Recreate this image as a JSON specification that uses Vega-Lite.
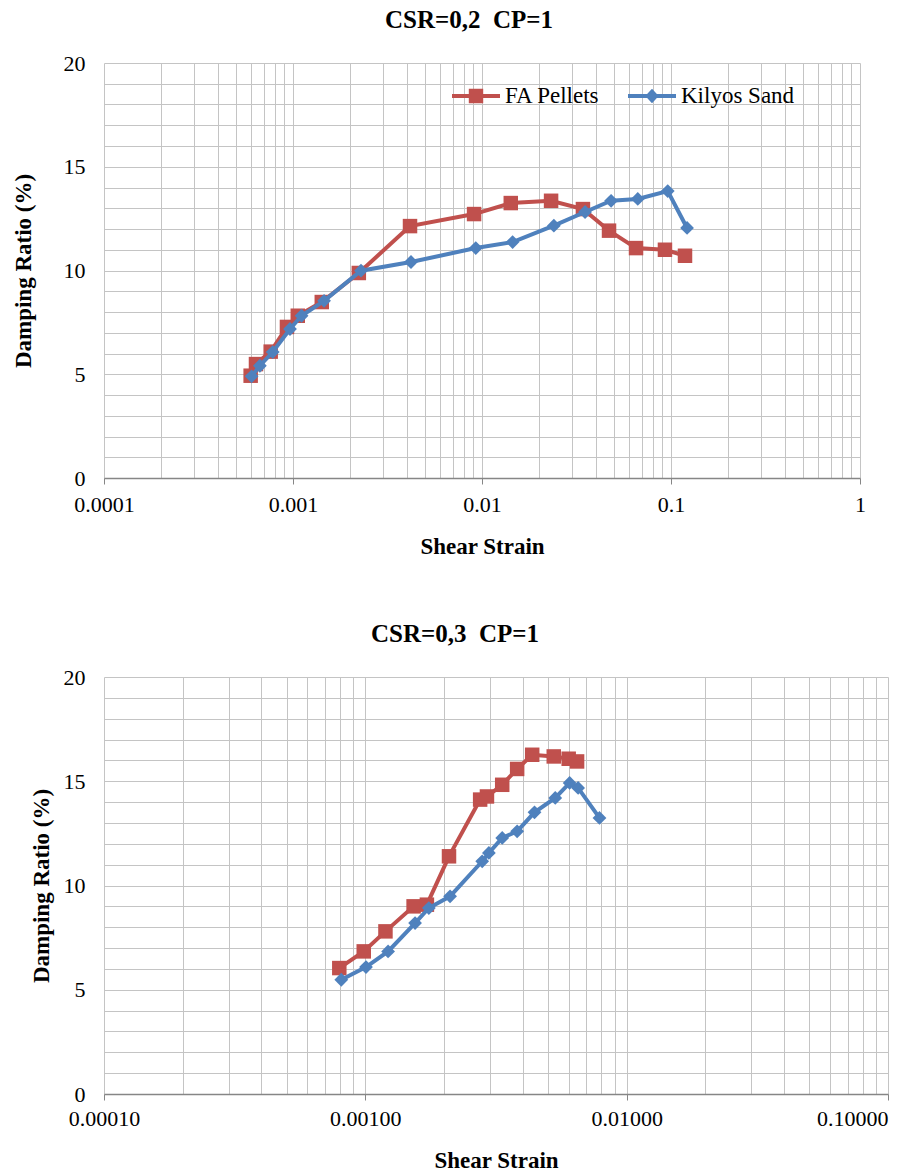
{
  "$schema": "https://vega.github.io/schema/vega-lite/v6.json",
  "background": "white",
  "padding": {"left": 12, "top": 8, "right": 5, "bottom": 0},
  "spacing": 64,
  "config": {
    "font": "'Liberation Serif', 'Times New Roman', serif",
    "view": {"stroke": null},
    "legend": {"labelFont": "'Liberation Serif', 'Times New Roman', serif", "labelColor": "#000000"},
    "axis": {
      "labelFont": "'Liberation Serif', 'Times New Roman', serif",
      "titleFont": "'Liberation Serif', 'Times New Roman', serif",
      "labelColor": "#000000",
      "titleColor": "#000000",
      "gridColor": "#c4c4c4",
      "gridWidth": 1,
      "gridOpacity": 1
    },
    "title": {"font": "'Liberation Serif', 'Times New Roman', serif"}
  },
  "datasets": {
    "top": [
      {"series": "FA Pellets", "strain": 0.000597, "damping": 4.93},
      {"series": "FA Pellets", "strain": 0.000637, "damping": 5.49},
      {"series": "FA Pellets", "strain": 0.000762, "damping": 6.09},
      {"series": "FA Pellets", "strain": 0.000929, "damping": 7.28},
      {"series": "FA Pellets", "strain": 0.00106, "damping": 7.82},
      {"series": "FA Pellets", "strain": 0.00142, "damping": 8.48},
      {"series": "FA Pellets", "strain": 0.00223, "damping": 9.88},
      {"series": "FA Pellets", "strain": 0.00416, "damping": 12.14},
      {"series": "FA Pellets", "strain": 0.00908, "damping": 12.72},
      {"series": "FA Pellets", "strain": 0.0142, "damping": 13.25},
      {"series": "FA Pellets", "strain": 0.0232, "damping": 13.36},
      {"series": "FA Pellets", "strain": 0.0342, "damping": 12.96},
      {"series": "FA Pellets", "strain": 0.047, "damping": 11.92},
      {"series": "FA Pellets", "strain": 0.0653, "damping": 11.08},
      {"series": "FA Pellets", "strain": 0.0929, "damping": 11.0},
      {"series": "FA Pellets", "strain": 0.1186, "damping": 10.71},
      {"series": "Kilyos Sand", "strain": 0.000604, "damping": 4.9},
      {"series": "Kilyos Sand", "strain": 0.000668, "damping": 5.41},
      {"series": "Kilyos Sand", "strain": 0.000781, "damping": 6.07},
      {"series": "Kilyos Sand", "strain": 0.000964, "damping": 7.18},
      {"series": "Kilyos Sand", "strain": 0.00111, "damping": 7.82},
      {"series": "Kilyos Sand", "strain": 0.00146, "damping": 8.54},
      {"series": "Kilyos Sand", "strain": 0.00229, "damping": 9.99},
      {"series": "Kilyos Sand", "strain": 0.00421, "damping": 10.41},
      {"series": "Kilyos Sand", "strain": 0.00927, "damping": 11.08},
      {"series": "Kilyos Sand", "strain": 0.01452, "damping": 11.37},
      {"series": "Kilyos Sand", "strain": 0.024, "damping": 12.16},
      {"series": "Kilyos Sand", "strain": 0.0351, "damping": 12.82},
      {"series": "Kilyos Sand", "strain": 0.0482, "damping": 13.36},
      {"series": "Kilyos Sand", "strain": 0.0667, "damping": 13.45},
      {"series": "Kilyos Sand", "strain": 0.0961, "damping": 13.83},
      {"series": "Kilyos Sand", "strain": 0.1216, "damping": 12.05}
    ],
    "bottom": [
      {"series": "FA Pellets", "strain": 0.000795, "damping": 6.04},
      {"series": "FA Pellets", "strain": 0.000986, "damping": 6.84},
      {"series": "FA Pellets", "strain": 0.001194, "damping": 7.8},
      {"series": "FA Pellets", "strain": 0.00153, "damping": 9.0},
      {"series": "FA Pellets", "strain": 0.00172, "damping": 9.08},
      {"series": "FA Pellets", "strain": 0.00209, "damping": 11.4},
      {"series": "FA Pellets", "strain": 0.00275, "damping": 14.12},
      {"series": "FA Pellets", "strain": 0.00292, "damping": 14.27},
      {"series": "FA Pellets", "strain": 0.00334, "damping": 14.83},
      {"series": "FA Pellets", "strain": 0.00381, "damping": 15.59},
      {"series": "FA Pellets", "strain": 0.00435, "damping": 16.27},
      {"series": "FA Pellets", "strain": 0.00526, "damping": 16.19},
      {"series": "FA Pellets", "strain": 0.006, "damping": 16.08},
      {"series": "FA Pellets", "strain": 0.00646, "damping": 15.95},
      {"series": "Kilyos Sand", "strain": 0.000809, "damping": 5.48},
      {"series": "Kilyos Sand", "strain": 0.001006, "damping": 6.09},
      {"series": "Kilyos Sand", "strain": 0.001222, "damping": 6.84},
      {"series": "Kilyos Sand", "strain": 0.00155, "damping": 8.2},
      {"series": "Kilyos Sand", "strain": 0.00175, "damping": 8.92},
      {"series": "Kilyos Sand", "strain": 0.00211, "damping": 9.48},
      {"series": "Kilyos Sand", "strain": 0.0028, "damping": 11.16},
      {"series": "Kilyos Sand", "strain": 0.00297, "damping": 11.56},
      {"series": "Kilyos Sand", "strain": 0.00334, "damping": 12.28},
      {"series": "Kilyos Sand", "strain": 0.00381, "damping": 12.6},
      {"series": "Kilyos Sand", "strain": 0.00444, "damping": 13.51},
      {"series": "Kilyos Sand", "strain": 0.00533, "damping": 14.2},
      {"series": "Kilyos Sand", "strain": 0.00605, "damping": 14.92},
      {"series": "Kilyos Sand", "strain": 0.00652, "damping": 14.68},
      {"series": "Kilyos Sand", "strain": 0.00787, "damping": 13.24}
    ]
  },
  "vconcat": [
    {
      "width": 756,
      "height": 415,
      "title": {"text": "CSR=0,2\u00a0 CP=1", "fontSize": 25, "fontWeight": "bold", "color": "#000000", "anchor": "middle", "dx": -13, "offset": 19},
      "data": {"name": "top"},
      "encoding": {
        "x": {
          "field": "strain", "type": "quantitative",
          "scale": {"type": "log", "domain": [0.0001, 1], "nice": false},
          "axis": {
            "values": [0.0001,0.0002,0.0003,0.0004,0.0005,0.0006,0.0007,0.0008,0.0009,0.001,0.002,0.003,0.004,0.005,0.006,0.007,0.008,0.009,0.01,0.02,0.03,0.04,0.05,0.06,0.07,0.08,0.09,0.1,0.2,0.3,0.4,0.5,0.6,0.7,0.8,0.9,1],
            "title": "Shear Strain", "titleFontSize": 23, "titleFontWeight": "bold", "titlePadding": 20,
            "labelFontSize": 22, "labelPadding": 10, "labelOverlap": false, "labelFlush": false, "labelBound": false,
            "labelExpr": "abs(log(datum.value)/LN10 - round(log(datum.value)/LN10)) < 0.001 ? format(datum.value, '~g') : ''",
            "grid": true,
            "domainColor": "#868686", "domainWidth": 1.5,
            "tickColor": "#868686", "tickSize": 6, "tickWidth": 1,
            "tickOpacity": {"condition": {"test": "abs(log(datum.value)/LN10 - round(log(datum.value)/LN10)) < 0.001", "value": 1}, "value": 0}
          }
        },
        "y": {
          "field": "damping", "type": "quantitative",
          "scale": {"domain": [0, 20], "nice": false},
          "axis": {
            "values": [0,1,2,3,4,5,6,7,8,9,10,11,12,13,14,15,16,17,18,19,20],
            "title": "Damping Ratio (%)", "titleFontSize": 23, "titleFontWeight": "bold", "titlePadding": 28,
            "labelFontSize": 22, "labelPadding": 19, "labelOverlap": false,
            "labelExpr": "datum.value % 5 === 0 ? datum.label : ''",
            "ticks": false, "domain": false, "grid": true
          }
        },
        "color": {
          "field": "series", "type": "nominal",
          "scale": {"domain": ["FA Pellets", "Kilyos Sand"], "range": ["#C0504D", "#4F81BD"]},
          "legend": {
            "orient": "none", "legendX": 348, "legendY": 9, "direction": "horizontal", "title": null,
            "labelFontSize": 23, "labelColor": "#000000",
            "symbolSize": 2304, "columnPadding": 28, "labelOffset": 5,
            "encode": {
              "symbols": {"update": {
                "shape": {"signal": "datum.value === 'FA Pellets' ? 'M-1,-0.085H1V0.085H-1Z M-0.3,-0.3H0.3V0.3H-0.3Z' : 'M-1,-0.085H1V0.085H-1Z M0,-0.3L0.28,0L0,0.3L-0.28,0Z'"},
                "fill": {"scale": "color", "field": "value"},
                "fillOpacity": {"value": 1},
                "strokeWidth": {"value": 0}
              }}
            }
          }
        }
      },
      "layer": [
        {"transform": [{"filter": "datum.series === 'FA Pellets'"}], "mark": {"type": "line", "strokeWidth": 4}},
        {"transform": [{"filter": "datum.series === 'FA Pellets'"}], "mark": {"type": "point", "shape": "square", "filled": true, "size": 210, "opacity": 1}},
        {"transform": [{"filter": "datum.series === 'Kilyos Sand'"}], "mark": {"type": "line", "strokeWidth": 4}},
        {"transform": [{"filter": "datum.series === 'Kilyos Sand'"}], "mark": {"type": "point", "shape": "diamond", "filled": true, "size": 190, "opacity": 1}}
      ]
    },
    {
      "width": 784,
      "height": 417,
      "title": {"text": "CSR=0,3\u00a0 CP=1", "fontSize": 25, "fontWeight": "bold", "color": "#000000", "anchor": "middle", "dx": -41, "offset": 19},
      "data": {"name": "bottom"},
      "encoding": {
        "x": {
          "field": "strain", "type": "quantitative",
          "scale": {"type": "log", "domain": [0.0001, 0.1], "nice": false},
          "axis": {
            "values": [0.0001,0.0002,0.0003,0.0004,0.0005,0.0006,0.0007,0.0008,0.0009,0.001,0.002,0.003,0.004,0.005,0.006,0.007,0.008,0.009,0.01,0.02,0.03,0.04,0.05,0.06,0.07,0.08,0.09,0.1],
            "title": "Shear Strain", "titleFontSize": 23, "titleFontWeight": "bold", "titlePadding": 20,
            "labelFontSize": 22, "labelPadding": 8, "labelOverlap": false, "labelFlush": false, "labelBound": false,
            "labelExpr": "abs(log(datum.value)/LN10 - round(log(datum.value)/LN10)) < 0.001 ? format(datum.value, '.5f') : ''",
            "labelAlign": {"condition": {"test": "datum.value > 0.09", "value": "right"}, "value": "center"},
            "grid": true,
            "domainColor": "#868686", "domainWidth": 1.5,
            "tickColor": "#868686", "tickSize": 6, "tickWidth": 1,
            "tickOpacity": {"condition": {"test": "abs(log(datum.value)/LN10 - round(log(datum.value)/LN10)) < 0.001", "value": 1}, "value": 0}
          }
        },
        "y": {
          "field": "damping", "type": "quantitative",
          "scale": {"domain": [0, 20], "nice": false},
          "axis": {
            "values": [0,1,2,3,4,5,6,7,8,9,10,11,12,13,14,15,16,17,18,19,20],
            "title": "Damping Ratio (%)", "titleFontSize": 23, "titleFontWeight": "bold", "titlePadding": 10,
            "labelFontSize": 22, "labelPadding": 19, "labelOverlap": false,
            "labelExpr": "datum.value % 5 === 0 ? datum.label : ''",
            "ticks": false, "domain": false, "grid": true
          }
        },
        "color": {
          "field": "series", "type": "nominal",
          "scale": {"domain": ["FA Pellets", "Kilyos Sand"], "range": ["#C0504D", "#4F81BD"]},
          "legend": {
            "orient": "none", "legendX": 378, "legendY": 9, "direction": "horizontal", "title": null,
            "labelFontSize": 23, "labelColor": "#000000",
            "symbolSize": 2304, "columnPadding": 73, "labelOffset": 3,
            "encode": {
              "symbols": {"update": {
                "shape": {"signal": "datum.value === 'FA Pellets' ? 'M-1,-0.085H1V0.085H-1Z M-0.3,-0.3H0.3V0.3H-0.3Z' : 'M-1,-0.085H1V0.085H-1Z M0,-0.3L0.28,0L0,0.3L-0.28,0Z'"},
                "fill": {"scale": "color", "field": "value"},
                "fillOpacity": {"value": 1},
                "strokeWidth": {"value": 0}
              }}
            }
          }
        }
      },
      "layer": [
        {"transform": [{"filter": "datum.series === 'FA Pellets'"}], "mark": {"type": "line", "strokeWidth": 4}},
        {"transform": [{"filter": "datum.series === 'FA Pellets'"}], "mark": {"type": "point", "shape": "square", "filled": true, "size": 210, "opacity": 1}},
        {"transform": [{"filter": "datum.series === 'Kilyos Sand'"}], "mark": {"type": "line", "strokeWidth": 4}},
        {"transform": [{"filter": "datum.series === 'Kilyos Sand'"}], "mark": {"type": "point", "shape": "diamond", "filled": true, "size": 190, "opacity": 1}}
      ]
    }
  ]
}
